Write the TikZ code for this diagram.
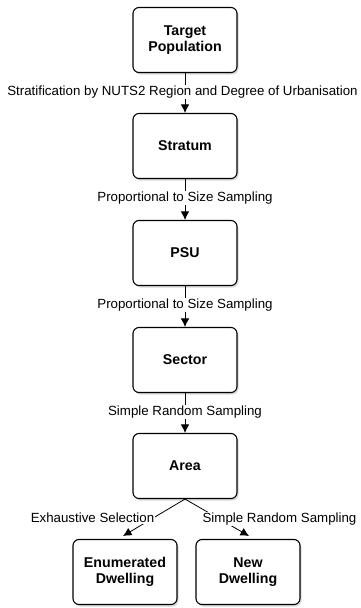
\documentclass[tikz,border=0pt]{standalone}
\usepackage{fontspec}
\setmainfont{Liberation Sans}
\usetikzlibrary{shadows,arrows.meta}
\begin{document}
\begin{tikzpicture}[x=1pt,y=-1pt,
 box/.style={draw, line width=1.1pt, rounded corners=6pt, fill=white, minimum width=104pt, minimum height=65pt, inner sep=2pt, align=center, font=\fontsize{14.2}{16.5}\selectfont\bfseries, drop shadow={opacity=0.3, shadow xshift=1.5pt, shadow yshift=-2pt}},
 lab/.style={fill=white, inner sep=1pt, font=\fontsize{13.3}{15}\selectfont},
 arr/.style={-{Latex[length=8.5pt,width=8.5pt]}, line width=0.8pt}]
\useasboundingbox (0,0) rectangle (360,608);
\node[box] (tp) at (185,40) {Target\\Population};
\node[box] (st) at (185,146) {Stratum};
\node[box] (psu) at (185,253) {PSU};
\node[box] (sec) at (185,360) {Sector};
\node[box] (area) at (185,466) {Area};
\node[box] (enum) at (125,572) {Enumerated\\Dwelling};
\node[box] (new) at (248,572) {New\\Dwelling};
\draw[arr] (tp) -- (st);
\draw[arr] (st) -- (psu);
\draw[arr] (psu) -- (sec);
\draw[arr] (sec) -- (area);
\coordinate (e1) at (123,536);
\coordinate (n1) at (249,536);
\draw[arr] (area.south) -- (e1);
\draw[arr] (area.south) -- (n1);
\node[lab] (l1) at (182.5,92) {Stratification by NUTS2 Region and Degree of Urbanisation};
\node[lab] (l2) at (185,198) {Proportional to Size Sampling};
\node[lab] (l3) at (185,305) {Proportional to Size Sampling};
\node[lab] (l4) at (185,412) {Simple Random Sampling};
\node[lab] (l5) at (92.5,518) {Exhaustive Selection};
\node[lab] (l6) at (279.5,519) {Simple Random Sampling};
\end{tikzpicture}
\end{document}
